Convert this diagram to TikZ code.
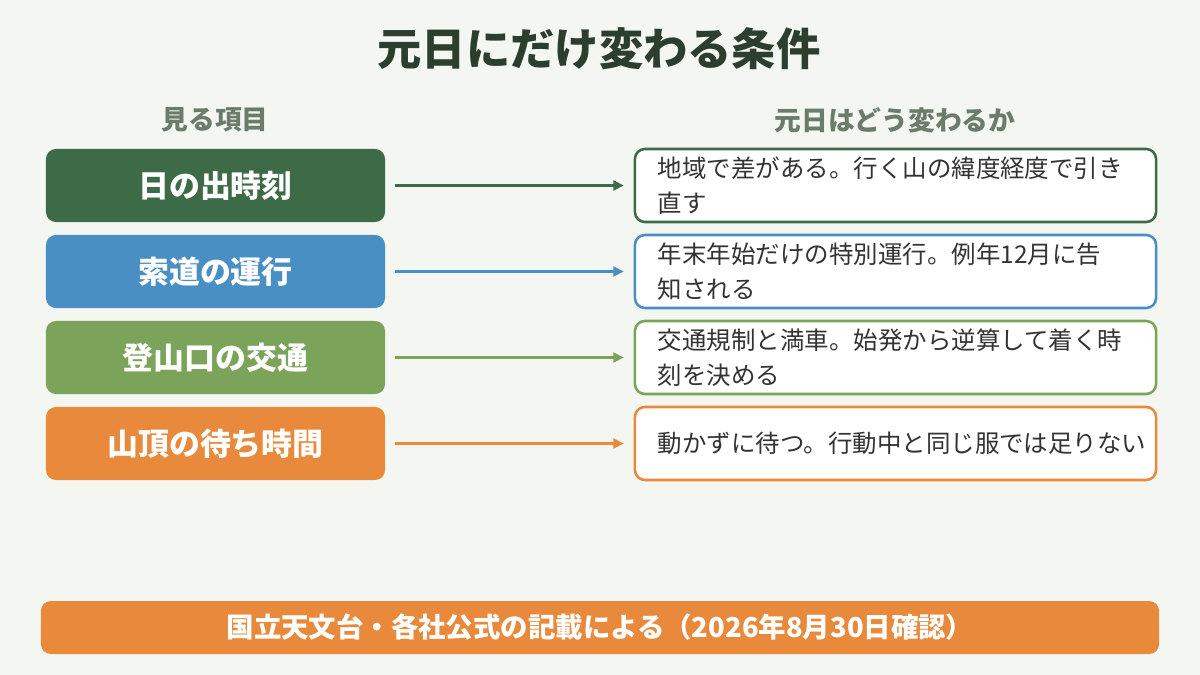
\documentclass[tikz,border=0pt]{standalone}
\usepackage{fontspec}
\setmainfont{Noto Sans CJK JP}
\usepackage{xcolor}
\usetikzlibrary{arrows.meta,positioning}
\definecolor{bgpaper}{HTML}{F4F6F1}
\definecolor{titleink}{HTML}{2C3E2E}
\definecolor{headink}{HTML}{6B7C6B}
\definecolor{bodyink}{HTML}{333333}
\definecolor{sunrise}{HTML}{3E6B47}
\definecolor{ropeway}{HTML}{4A8FC3}
\definecolor{trailhead}{HTML}{7BA35A}
\definecolor{summit}{HTML}{E8893B}
\tikzset{
  item/.style={
    shape = rectangle,
    rounded corners = 0.25cm,
    minimum width = 8.475cm,
    minimum height = 1.825cm,
    text = white,
    font = \fontsize{22}{26}\selectfont\bfseries
  },
  change/.style={
    shape = rectangle,
    draw,
    line width = 1.8pt,
    fill = white,
    rounded corners = 0.25cm,
    minimum width = 13.025cm,
    minimum height = 1.825cm,
    inner xsep = 0.575cm,
    text width = 11.875cm,
    align = left,
    text = bodyink,
    font = \fontsize{17.4}{25}\selectfont
  },
  link/.style={
    line width = 2pt,
    shorten < = 7pt,
    shorten > = 7pt,
    -{Stealth[length=7.5pt,width=7pt,inset=0pt]}
  },
  head/.style={
    text = headink,
    font = \fontsize{19}{22}\selectfont\bfseries
  }
}

\begin{document}
\begin{tikzpicture}[x=0.025cm,y=-0.025cm]
        \fill[bgpaper] (0,0) rectangle (1200,675);
        \useasboundingbox (0,0) rectangle (1200,675);
        \node[text=titleink, font=\fontsize{31.5}{36}\selectfont\bfseries] (title) at (599,49) {元日にだけ変わる条件};
        \node[head] (lefthead) at (215,120) {見る項目};
        \node[head] (righthead) at (895,120) {元日はどう変わるか};
        % left column
        \node[item, fill=sunrise] (sun) at (215.5,185.5) {日の出時刻};
        \node[item, fill=ropeway] (rope) at (215.5,271.5) {索道の運行};
        \node[item, fill=trailhead] (trail) at (215.5,357.5) {登山口の交通};
        \node[item, fill=summit] (wait) at (215.5,443.5) {山頂の待ち時間};
        % right column
        \node[change, draw=sunrise] (sunnote) at (895.5,185.5) {地域で差がある。行く山の緯度経度で引き\\直す};
        \node[change, draw=ropeway] (ropenote) at (895.5,271.5) {年末年始だけの特別運行。例年12月に告\\知される};
        \node[change, draw=trailhead] (trailnote) at (895.5,357.5) {交通規制と満車。始発から逆算して着く時\\刻を決める};
        \node[change, draw=summit] (waitnote) at (895.5,443.5) {動かずに待つ。行動中と同じ服では足りない};
        \draw[link, sunrise] (sun) -- (sunnote);
        \draw[link, ropeway] (rope) -- (ropenote);
        \draw[link, trailhead] (trail) -- (trailnote);
        \draw[link, summit] (wait) -- (waitnote);
        % source bar
        \node[item, fill=summit, minimum width=27.95cm, minimum height=1.325cm, font=\fontsize{19.5}{22}\selectfont\bfseries] (source) at (600,627.5) {国立天文台・各社公式の記載による（2026年8月30日確認）};
    \end{tikzpicture}
\end{document}
